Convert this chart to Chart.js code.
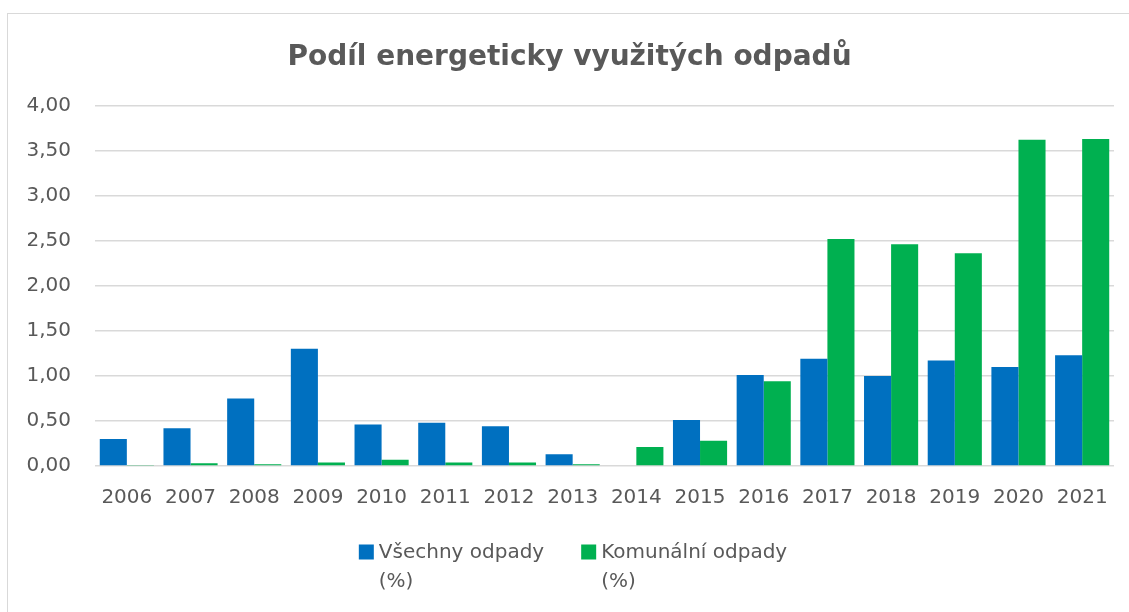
<!DOCTYPE html>
<html>
<head>
<meta charset="utf-8">
<script src="https://cdn.jsdelivr.net/npm/chart.js@4/dist/chart.umd.min.js"></script>
<style>
  html, body { margin: 0; padding: 0; background: #fff; overflow: hidden; }
  #frame {
    position: absolute; left: 7px; top: 13px; width: 1140px; height: 620px;
    border-left: 1px solid #d9d9d9; border-top: 1px solid #d9d9d9;
    overflow: hidden;
  }
  #wrap { position: absolute; left: 0; top: 0; width: 1136px; height: 598px; }
</style>
</head>
<body>
<div id="frame"><div id="wrap"><canvas id="chart"></canvas></div></div>
<script>
const years = ['2006', '2007', '2008', '2009', '2010', '2011', '2012', '2013',
  '2014', '2015', '2016', '2017', '2018', '2019', '2020', '2021']
const vsechny = [0.30, 0.42, 0.75, 1.30, 0.46, 0.48, 0.44, 0.13,
  0.00, 0.51, 1.01, 1.19, 1.00, 1.17, 1.10, 1.23]
const komunalni = [0.01, 0.03, 0.02, 0.04, 0.07, 0.04, 0.04, 0.02,
  0.21, 0.28, 0.94, 2.52, 2.46, 2.36, 3.62, 3.63]
const seriesNames = [['Všechny odpady', '(%)'], ['Komunální odpady', '(%)']]

const textColor = '#595959'
const font = 'DejaVu Sans'

// legend with two-line labels, drawn under the axis like Excel does
const wrappedLegend = {
  id: 'wrappedLegend',
  afterDraw(chart) {
    const ctx = chart.ctx
    const box = 15, boxGap = 5, itemGap = 37, lineGap = 29
    const y = chart.height - 60
    ctx.save()
    ctx.font = '20px "' + font + '"'
    ctx.textBaseline = 'middle'
    ctx.textAlign = 'left'
    const items = chart.data.datasets.map((ds) => {
      const w = Math.max(...ds.label.map((t) => ctx.measureText(t).width))
      return { ds, w: box + boxGap + w }
    })
    const total = items.reduce((s, it) => s + it.w, 0) + itemGap * (items.length - 1)
    let x = chart.width / 2 - total / 2 - 3
    items.forEach((it) => {
      ctx.fillStyle = it.ds.backgroundColor
      ctx.fillRect(x, y - box / 2, box, box)
      ctx.fillStyle = textColor
      it.ds.label.forEach((line, i) => {
        ctx.fillText(line, x + box + boxGap, y + 1 + i * lineGap)
      })
      x += it.w + itemGap
    })
    ctx.restore()
  }
}

new Chart(document.getElementById('chart'), {
  type: 'bar',
  data: {
    labels: years,
    datasets: [{
      label: seriesNames[0],
      data: vsechny,
      backgroundColor: '#0070C0'
    }, {
      label: seriesNames[1],
      data: komunalni,
      backgroundColor: '#00B050'
    }]
  },
  options: {
    responsive: true,
    maintainAspectRatio: false,
    animation: false,
    categoryPercentage: 0.85,
    barPercentage: 1.0,
    layout: { padding: { left: 17, right: 30, top: 0, bottom: 90 } },
    plugins: {
      title: {
        display: true,
        text: 'Podíl energeticky využitých odpadů',
        color: textColor,
        font: { family: font, size: 28, weight: 'bold' },
        padding: { top: 27, bottom: 31 }
      },
      legend: { display: false },
      tooltip: { enabled: false }
    },
    scales: {
      x: {
        grid: { display: false },
        border: { display: false },
        ticks: { color: textColor, font: { family: font, size: 20 }, padding: 12, maxRotation: 0 }
      },
      y: {
        min: 0,
        max: 4,
        afterFit: (scale) => { scale.width = 70 },
        grid: { color: '#d9d9d9', lineWidth: 1.5, drawTicks: false },
        border: { display: false },
        ticks: {
          stepSize: 0.5,
          color: textColor,
          font: { family: font, size: 20 },
          padding: 24,
          callback: (v) => v.toFixed(2).replace('.', ',')
        }
      }
    }
  },
  plugins: [wrappedLegend]
})
</script>
</body>
</html>
